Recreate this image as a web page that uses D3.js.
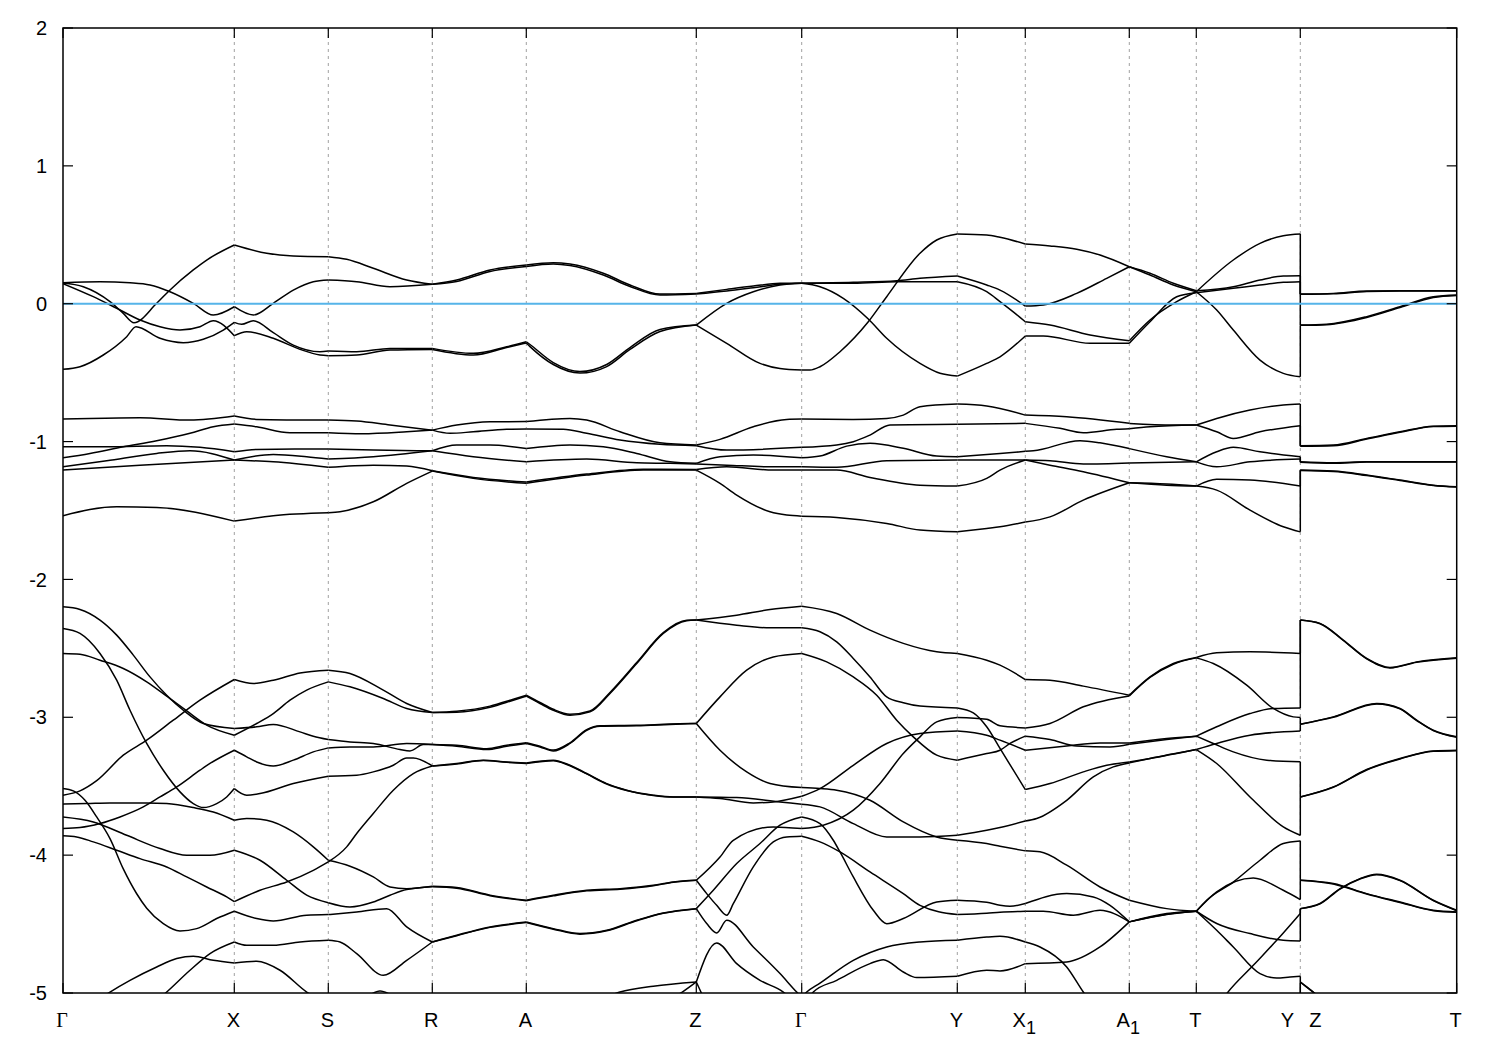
<!DOCTYPE html>
<html><head><meta charset="utf-8">
<script src="https://cdn.jsdelivr.net/npm/d3@7"></script>
<style>body{margin:0;background:#fff}</style>
</head><body>
<svg id="chart" width="1500" height="1050"></svg>
<script>
// High-symmetry path (k in arbitrary path-length units)
const kPoints = [0, 1.713, 2.653, 3.693, 4.633, 6.333, 7.387, 8.943, 9.623, 10.663, 11.333, 12.373, 13.937];
const kNames  = ["Γ", "X", "S", "R", "A", "Z", "Γ", "Y", "X1", "A1", "T", "Y|Z", "T"];
const energyTicks = [2, 1, 0, -1, -2, -3, -4, -5];
const fermiLevel = 0;

// ---- bands near the Fermi level ----
const band01 = [[0,0.150],[0.203,0.123],[0.47,0.015],[0.603,-0.07],[0.71,-0.138],[0.937,0.003],[1.07,0.10],[1.303,0.245],[1.437,0.317],[1.713,0.426],[2.037,0.366],[2.303,0.346],[2.653,0.341],[2.837,0.322],[3.103,0.257],[3.437,0.172],[3.693,0.141],[3.937,0.172],[4.27,0.245],[4.633,0.281],[4.903,0.298],[5.07,0.288],[5.403,0.221],[5.67,0.136],[5.97,0.070],[6.333,0.075],[6.637,0.104],[6.903,0.128],[7.17,0.148],[7.387,0.148],[7.903,0.155],[8.337,0.167],[8.57,0.184],[8.943,0.201],[9.237,0.136],[9.37,0.099],[9.623,-0.017],[9.803,-0.009],[10.137,0.075],[10.437,0.184],[10.663,0.268],[10.87,0.221],[11.103,0.148],[11.333,0.094],[11.703,0.123],[11.97,0.172],[12.203,0.201],[12.373,0.203],[12.373,0.070],[12.703,0.075],[13.037,0.092],[13.37,0.094],[13.937,0.094]];
const band02 = [[0,0.152],[0.37,0.160],[0.67,0.152],[0.87,0.136],[1.07,0.087],[1.303,0.003],[1.503,-0.082],[1.713,-0.022],[1.903,-0.082],[2.103,0.003],[2.303,0.099],[2.503,0.160],[2.653,0.172],[2.937,0.160],[3.27,0.123],[3.693,0.141],[3.937,0.161],[4.27,0.234],[4.633,0.270],[4.903,0.288],[5.07,0.277],[5.403,0.208],[5.67,0.125],[5.97,0.063],[6.333,0.070],[6.637,0.092],[6.903,0.116],[7.17,0.141],[7.387,0.148],[7.903,0.148],[8.337,0.160],[8.57,0.160],[8.943,0.160],[9.237,0.087],[9.37,0.015],[9.57,-0.099],[9.623,-0.131],[9.87,-0.155],[10.27,-0.227],[10.663,-0.269],[10.87,-0.118],[11.137,0.015],[11.333,0.087],[11.703,0.317],[11.97,0.438],[12.203,0.493],[12.373,0.506],[12.373,0.068],[12.703,0.072],[13.037,0.089],[13.37,0.092],[13.937,0.092]];
const band03 = [[0,0.146],[0.303,0.051],[0.537,-0.033],[0.77,-0.118],[0.97,-0.167],[1.17,-0.191],[1.37,-0.167],[1.503,-0.123],[1.713,-0.232],[1.837,-0.203],[2.103,-0.251],[2.37,-0.331],[2.57,-0.372],[2.653,-0.377],[2.937,-0.372],[3.27,-0.336],[3.693,-0.332],[4.103,-0.372],[4.437,-0.318],[4.633,-0.285],[4.67,-0.311],[4.903,-0.441],[5.17,-0.503],[5.437,-0.456],[5.67,-0.332],[5.97,-0.202],[6.333,-0.155],[6.637,0.003],[6.903,0.087],[7.17,0.136],[7.387,0.148],[7.57,0.123],[7.803,0.039],[8.053,-0.111],[8.237,-0.251],[8.57,-0.433],[8.77,-0.505],[8.943,-0.525],[9.237,-0.433],[9.37,-0.385],[9.623,-0.234],[9.803,-0.234],[10.27,-0.287],[10.663,-0.287],[10.87,-0.131],[11.137,0.051],[11.333,0.080],[11.703,0.112],[11.97,0.136],[12.203,0.155],[12.373,0.160],[12.373,-0.155],[12.637,-0.149],[13.037,-0.094],[13.37,-0.022],[13.703,0.051],[13.937,0.063]];
const band04 = [[0,-0.476],[0.17,-0.457],[0.403,-0.372],[0.637,-0.239],[0.73,-0.167],[0.97,-0.251],[1.203,-0.283],[1.403,-0.258],[1.603,-0.191],[1.713,-0.135],[1.787,-0.149],[1.903,-0.123],[2.103,-0.210],[2.303,-0.300],[2.57,-0.348],[2.653,-0.343],[2.937,-0.348],[3.27,-0.324],[3.693,-0.324],[4.103,-0.360],[4.437,-0.312],[4.633,-0.276],[4.67,-0.296],[4.903,-0.427],[5.17,-0.492],[5.437,-0.441],[5.67,-0.318],[5.97,-0.187],[6.333,-0.155],[6.637,-0.287],[6.97,-0.433],[7.17,-0.470],[7.387,-0.481],[7.47,-0.481],[7.57,-0.457],[7.77,-0.348],[8.053,-0.131],[8.237,0.051],[8.57,0.366],[8.737,0.462],[8.943,0.506],[9.237,0.499],[9.37,0.482],[9.623,0.433],[9.87,0.419],[10.137,0.395],[10.37,0.353],[10.663,0.268],[10.87,0.208],[11.103,0.136],[11.333,0.087],[11.537,-0.046],[11.703,-0.191],[11.97,-0.409],[12.203,-0.505],[12.373,-0.530],[12.373,-0.157],[12.637,-0.152],[13.037,-0.100],[13.37,-0.028],[13.703,0.045],[13.937,0.060]];

// ---- bands around -1 eV ----
const band05 = [[0,-1.118],[0.27,-1.086],[0.603,-1.038],[0.937,-0.994],[1.27,-0.940],[1.503,-0.893],[1.713,-0.873],[1.937,-0.893],[2.27,-0.936],[2.653,-0.936],[2.987,-0.943],[3.437,-0.929],[3.693,-0.917],[3.937,-0.880],[4.27,-0.856],[4.633,-0.855],[5.07,-0.832],[5.237,-0.844],[5.57,-0.929],[5.97,-1.009],[6.333,-1.025],[6.57,-0.984],[6.903,-0.893],[7.237,-0.839],[7.387,-0.837],[7.903,-0.839],[8.237,-0.832],[8.403,-0.808],[8.57,-0.747],[8.943,-0.728],[9.237,-0.742],[9.623,-0.808],[10.037,-0.820],[10.663,-0.868],[11.103,-0.880],[11.333,-0.880],[11.537,-0.832],[11.87,-0.771],[12.203,-0.735],[12.373,-0.728],[12.373,-1.030],[12.703,-1.025],[13.037,-0.977],[13.37,-0.929],[13.703,-0.888],[13.937,-0.885]];
const band06 = [[0,-0.837],[0.27,-0.832],[0.77,-0.827],[1.27,-0.844],[1.713,-0.815],[1.937,-0.839],[2.653,-0.844],[2.937,-0.851],[3.27,-0.880],[3.693,-0.917],[3.87,-0.940],[4.103,-0.929],[4.437,-0.911],[4.633,-0.909],[5.003,-0.911],[5.237,-0.940],[5.57,-0.989],[5.97,-1.020],[6.333,-1.030],[6.637,-1.062],[7.387,-1.042],[7.737,-1.025],[7.903,-1.001],[8.07,-0.953],[8.27,-0.880],[8.943,-0.875],[9.623,-0.868],[9.97,-0.904],[10.203,-0.936],[10.537,-0.911],[10.663,-0.907],[10.87,-0.893],[11.333,-0.880],[11.537,-0.929],[11.703,-0.977],[11.97,-0.929],[12.373,-0.885],[12.373,-1.034],[12.703,-1.030],[13.037,-0.982],[13.37,-0.933],[13.703,-0.891],[13.937,-0.888]];
const band07 = [[0,-1.038],[0.437,-1.038],[1.037,-1.030],[1.37,-1.042],[1.713,-1.074],[1.937,-1.057],[2.437,-1.054],[2.653,-1.054],[3.103,-1.062],[3.693,-1.067],[3.937,-1.025],[4.27,-1.025],[4.633,-1.051],[5.07,-1.025],[5.403,-1.038],[5.737,-1.086],[6.07,-1.147],[6.333,-1.158],[6.57,-1.110],[6.903,-1.098],[7.387,-1.118],[7.57,-1.105],[7.837,-1.033],[8.07,-1.013],[8.403,-1.049],[8.737,-1.105],[8.943,-1.110],[9.37,-1.086],[9.623,-1.071],[9.703,-1.067],[10.17,-0.994],[10.37,-1.009],[10.663,-1.051],[11.037,-1.110],[11.333,-1.147],[11.537,-1.074],[11.703,-1.042],[11.97,-1.074],[12.373,-1.110],[12.373,-1.147],[12.703,-1.154],[13.037,-1.147],[13.937,-1.147]];
const band08 = [[0,-1.183],[0.437,-1.139],[0.937,-1.086],[1.27,-1.067],[1.713,-1.134],[2.103,-1.093],[2.437,-1.110],[2.653,-1.127],[3.103,-1.110],[3.693,-1.067],[4.103,-1.110],[4.633,-1.147],[5.237,-1.127],[5.737,-1.154],[6.07,-1.158],[6.333,-1.163],[6.637,-1.171],[7.07,-1.183],[7.387,-1.183],[7.737,-1.187],[8.237,-1.139],[8.943,-1.134],[9.623,-1.134],[9.87,-1.139],[10.203,-1.163],[10.663,-1.155],[11.333,-1.147],[11.537,-1.183],[11.87,-1.147],[12.373,-1.127],[12.373,-1.150],[12.703,-1.158],[13.037,-1.149],[13.937,-1.149]];
const band09 = [[0,-1.207],[0.77,-1.171],[1.713,-1.134],[2.103,-1.147],[2.653,-1.187],[3.103,-1.171],[3.437,-1.178],[3.693,-1.212],[4.103,-1.260],[4.633,-1.294],[5.237,-1.236],[5.803,-1.200],[6.333,-1.202],[6.637,-1.183],[7.103,-1.207],[7.387,-1.207],[7.737,-1.207],[8.07,-1.260],[8.57,-1.316],[8.943,-1.323],[9.237,-1.267],[9.37,-1.207],[9.623,-1.134],[9.87,-1.171],[10.203,-1.219],[10.663,-1.299],[11.037,-1.316],[11.333,-1.323],[11.537,-1.352],[11.87,-1.497],[12.203,-1.618],[12.373,-1.655],[12.373,-1.207],[12.703,-1.214],[13.037,-1.243],[13.37,-1.279],[13.703,-1.316],[13.937,-1.328]];
const band10 = [[0,-1.538],[0.537,-1.473],[0.937,-1.478],[1.713,-1.577],[2.103,-1.538],[2.653,-1.517],[2.77,-1.509],[3.103,-1.437],[3.437,-1.303],[3.693,-1.214],[4.103,-1.267],[4.633,-1.303],[5.237,-1.243],[5.803,-1.207],[6.333,-1.207],[6.57,-1.303],[6.737,-1.388],[7.07,-1.509],[7.237,-1.533],[7.387,-1.541],[7.737,-1.550],[8.237,-1.594],[8.57,-1.642],[8.943,-1.655],[9.237,-1.630],[9.37,-1.618],[9.623,-1.584],[9.87,-1.546],[10.203,-1.425],[10.663,-1.299],[11.037,-1.308],[11.333,-1.323],[11.537,-1.274],[11.87,-1.279],[12.373,-1.323],[12.373,-1.210],[12.703,-1.217],[13.037,-1.246],[13.37,-1.282],[13.703,-1.319],[13.937,-1.330]];

// ---- deeper bands (-2 to -5 eV) ----
const band11 = [[0,-2.199],[0.17,-2.218],[0.37,-2.295],[0.537,-2.404],[0.703,-2.549],[0.87,-2.707],[1.037,-2.840],[1.203,-2.949],[1.403,-3.045],[1.713,-3.081],[1.937,-3.069],[2.103,-3.052],[2.37,-3.106],[2.503,-3.137],[2.653,-3.161],[2.87,-3.179],[3.103,-3.190],[3.37,-3.234],[3.47,-3.244],[3.603,-3.198],[3.693,-3.198],[3.937,-3.210],[4.237,-3.234],[4.437,-3.210],[4.633,-3.190],[4.77,-3.215],[4.903,-3.244],[5.07,-3.190],[5.237,-3.094],[5.37,-3.065],[5.737,-3.062],[6.07,-3.052],[6.333,-3.045],[6.57,-2.852],[6.837,-2.658],[7.103,-2.562],[7.387,-2.537],[7.637,-2.598],[7.903,-2.707],[8.137,-2.840],[8.337,-3.021],[8.503,-3.142],[8.737,-3.275],[8.943,-3.311],[9.237,-3.263],[9.37,-3.239],[9.47,-3.190],[9.623,-3.137],[9.87,-3.161],[10.137,-3.208],[10.47,-3.215],[10.663,-3.195],[11.037,-3.161],[11.333,-3.137],[11.503,-3.190],[11.703,-3.251],[12.037,-3.311],[12.373,-3.323],[12.373,-3.578],[12.703,-3.505],[13.037,-3.379],[13.37,-3.299],[13.703,-3.244],[13.937,-3.239]];
const band12 = [[0,-2.537],[0.17,-2.542],[0.37,-2.586],[0.603,-2.646],[0.837,-2.743],[1.037,-2.847],[1.237,-2.954],[1.437,-3.057],[1.713,-3.130],[1.937,-3.045],[2.103,-2.973],[2.27,-2.876],[2.437,-2.803],[2.653,-2.743],[2.87,-2.779],[3.203,-2.864],[3.437,-2.936],[3.693,-2.965],[3.937,-2.963],[4.27,-2.927],[4.503,-2.876],[4.633,-2.847],[4.77,-2.900],[4.903,-2.949],[5.07,-2.985],[5.27,-2.961],[5.47,-2.827],[5.737,-2.610],[6.003,-2.392],[6.237,-2.300],[6.333,-2.295],[6.737,-2.259],[7.07,-2.218],[7.387,-2.194],[7.737,-2.247],[8.07,-2.368],[8.403,-2.464],[8.737,-2.525],[8.943,-2.537],[9.237,-2.586],[9.37,-2.622],[9.623,-2.726],[9.87,-2.731],[10.203,-2.774],[10.663,-2.840],[10.87,-2.707],[11.103,-2.610],[11.333,-2.566],[11.537,-2.532],[11.87,-2.525],[12.373,-2.537],[12.373,-2.295],[12.57,-2.319],[12.803,-2.440],[13.037,-2.573],[13.27,-2.639],[13.537,-2.598],[13.937,-2.569]];
const band13 = [[0,-3.565],[0.17,-3.534],[0.337,-3.46],[0.603,-3.275],[0.837,-3.166],[1.103,-3.021],[1.37,-2.876],[1.713,-2.726],[1.903,-2.755],[2.103,-2.731],[2.37,-2.678],[2.653,-2.658],[2.87,-2.682],[3.203,-2.803],[3.437,-2.900],[3.693,-2.965],[3.937,-2.956],[4.27,-2.919],[4.503,-2.869],[4.633,-2.840],[4.77,-2.893],[4.903,-2.942],[5.07,-2.978],[5.27,-2.954],[5.47,-2.820],[5.737,-2.603],[6.003,-2.386],[6.237,-2.296],[6.333,-2.295],[6.737,-2.332],[7.07,-2.351],[7.387,-2.351],[7.57,-2.380],[7.737,-2.453],[7.903,-2.573],[8.07,-2.707],[8.237,-2.852],[8.403,-2.895],[8.57,-2.919],[8.943,-2.932],[9.103,-2.968],[9.237,-3.069],[9.37,-3.226],[9.623,-3.524],[9.87,-3.481],[10.203,-3.396],[10.437,-3.348],[10.663,-3.324],[10.87,-3.299],[11.333,-3.234],[11.537,-3.335],[11.87,-3.578],[12.203,-3.795],[12.373,-3.856],[12.373,-3.578],[12.703,-3.508],[13.037,-3.382],[13.37,-3.302],[13.703,-3.247],[13.937,-3.242]];
const band14 = [[0,-2.356],[0.17,-2.392],[0.37,-2.537],[0.537,-2.731],[0.67,-2.949],[0.837,-3.190],[1.003,-3.384],[1.17,-3.541],[1.303,-3.626],[1.403,-3.655],[1.537,-3.626],[1.637,-3.578],[1.713,-3.517],[1.837,-3.565],[1.97,-3.553],[2.303,-3.480],[2.653,-3.427],[2.937,-3.420],[3.103,-3.396],[3.303,-3.348],[3.437,-3.295],[3.503,-3.295],[3.693,-3.353],[3.937,-3.335],[4.203,-3.311],[4.437,-3.324],[4.633,-3.331],[4.903,-3.311],[5.07,-3.348],[5.237,-3.408],[5.437,-3.481],[5.637,-3.529],[5.903,-3.565],[6.103,-3.578],[6.333,-3.578],[6.57,-3.589],[6.903,-3.621],[7.103,-3.614],[7.387,-3.573],[7.57,-3.517],[7.903,-3.348],[8.237,-3.190],[8.57,-3.118],[8.943,-3.099],[9.237,-3.130],[9.37,-3.166],[9.623,-3.239],[10.037,-3.208],[10.37,-3.186],[10.663,-3.186],[11.037,-3.154],[11.333,-3.137],[11.537,-3.069],[11.87,-2.973],[12.103,-2.936],[12.373,-2.932],[12.373,-2.295],[12.57,-2.321],[12.803,-2.443],[13.037,-2.576],[13.27,-2.642],[13.537,-2.601],[13.937,-2.572]];
const band15 = [[0,-3.807],[0.17,-3.800],[0.37,-3.771],[0.57,-3.723],[0.803,-3.650],[0.97,-3.578],[1.137,-3.505],[1.37,-3.384],[1.47,-3.335],[1.713,-3.239],[1.837,-3.287],[1.937,-3.324],[2.103,-3.353],[2.303,-3.311],[2.503,-3.251],[2.653,-3.222],[2.87,-3.215],[3.103,-3.215],[3.437,-3.190],[3.693,-3.198],[3.937,-3.203],[4.237,-3.228],[4.437,-3.203],[4.633,-3.185],[4.77,-3.210],[4.903,-3.238],[5.07,-3.185],[5.237,-3.090],[5.37,-3.061],[5.737,-3.058],[6.07,-3.049],[6.333,-3.045],[6.57,-3.239],[6.837,-3.396],[7.07,-3.480],[7.387,-3.510],[7.57,-3.517],[7.737,-3.529],[8.07,-3.602],[8.403,-3.759],[8.737,-3.868],[8.943,-3.892],[9.237,-3.916],[9.37,-3.935],[9.623,-3.969],[9.77,-3.976],[10.037,-4.073],[10.37,-4.231],[10.663,-4.327],[11.037,-4.388],[11.333,-4.407],[11.437,-4.327],[11.703,-4.195],[11.97,-4.037],[12.203,-3.916],[12.373,-3.897],[12.373,-4.182],[12.703,-4.206],[13.037,-4.279],[13.37,-4.340],[13.703,-4.400],[13.937,-4.412]];
const band16 = [[0,-3.630],[0.237,-3.626],[0.47,-3.621],[0.837,-3.621],[1.037,-3.626],[1.303,-3.655],[1.503,-3.687],[1.713,-3.747],[1.837,-3.734],[2.037,-3.747],[2.303,-3.832],[2.503,-3.940],[2.653,-4.037],[2.87,-4.080],[3.103,-4.158],[3.27,-4.231],[3.437,-4.243],[3.693,-4.226],[3.937,-4.235],[4.27,-4.290],[4.633,-4.327],[4.903,-4.291],[5.237,-4.255],[5.57,-4.243],[5.903,-4.219],[6.103,-4.194],[6.333,-4.182],[6.57,-4.013],[6.703,-3.892],[7.103,-3.795],[7.387,-3.807],[7.603,-3.783],[7.903,-3.674],[8.17,-3.480],[8.403,-3.263],[8.57,-3.142],[8.737,-3.033],[8.943,-3.001],[9.237,-3.015],[9.37,-3.062],[9.623,-3.077],[9.87,-3.045],[10.203,-2.924],[10.663,-2.845],[10.87,-2.711],[11.103,-2.615],[11.333,-2.569],[11.503,-2.610],[11.837,-2.767],[12.103,-2.936],[12.303,-2.997],[12.373,-3.001],[12.373,-3.050],[12.703,-2.997],[13.137,-2.900],[13.37,-2.936],[13.537,-3.021],[13.703,-3.094],[13.937,-3.142]];
const band17 = [[0,-3.723],[0.303,-3.759],[0.637,-3.856],[0.97,-3.952],[1.237,-4.001],[1.47,-4.001],[1.713,-3.964],[1.97,-4.037],[2.237,-4.182],[2.437,-4.29],[2.653,-4.345],[2.87,-4.376],[3.103,-4.340],[3.27,-4.291],[3.437,-4.250],[3.693,-4.230],[3.937,-4.240],[4.27,-4.294],[4.633,-4.331],[4.903,-4.295],[5.237,-4.259],[5.57,-4.247],[5.903,-4.222],[6.103,-4.197],[6.333,-4.182],[6.437,-4.279],[6.537,-4.364],[6.637,-4.436],[6.703,-4.352],[6.903,-4.085],[7.103,-3.904],[7.237,-3.868],[7.387,-3.863],[7.57,-3.904],[7.77,-3.977],[8.07,-4.122],[8.403,-4.279],[8.57,-4.364],[8.943,-4.431],[9.237,-4.421],[9.37,-4.414],[9.623,-4.407],[9.803,-4.407],[10.103,-4.436],[10.37,-4.400],[10.663,-4.484],[11.037,-4.428],[11.333,-4.407],[11.537,-4.496],[11.87,-4.569],[12.203,-4.618],[12.373,-4.623],[12.373,-4.388],[12.57,-4.351],[12.77,-4.243],[12.97,-4.170],[13.137,-4.139],[13.37,-4.182],[13.703,-4.327],[13.937,-4.400]];
const band18 = [[0,-3.860],[0.137,-3.868],[0.303,-3.904],[0.537,-3.964],[0.77,-4.025],[1.037,-4.086],[1.237,-4.158],[1.437,-4.231],[1.637,-4.303],[1.713,-4.337],[1.97,-4.255],[2.237,-4.195],[2.503,-4.110],[2.653,-4.049],[2.837,-3.940],[2.937,-3.843],[3.103,-3.698],[3.303,-3.529],[3.503,-3.408],[3.693,-3.353],[3.937,-3.338],[4.203,-3.314],[4.437,-3.327],[4.633,-3.335],[4.903,-3.315],[5.07,-3.352],[5.237,-3.411],[5.437,-3.484],[5.637,-3.531],[5.903,-3.567],[6.103,-3.578],[6.333,-3.578],[6.737,-3.582],[7.17,-3.614],[7.387,-3.630],[7.57,-3.650],[7.903,-3.771],[8.237,-3.868],[8.57,-3.868],[8.943,-3.856],[9.237,-3.820],[9.37,-3.800],[9.623,-3.752],[9.737,-3.734],[10.037,-3.602],[10.303,-3.432],[10.503,-3.360],[10.663,-3.331],[10.87,-3.299],[11.333,-3.234],[11.537,-3.190],[11.87,-3.130],[12.373,-3.099],[12.373,-3.050],[12.703,-3.000],[13.137,-2.903],[13.37,-2.939],[13.537,-3.024],[13.703,-3.097],[13.937,-3.145]];
const band19 = [[0,-3.517],[0.103,-3.534],[0.22,-3.602],[0.337,-3.723],[0.47,-3.880],[0.603,-4.100],[0.737,-4.280],[0.837,-4.385],[1.003,-4.497],[1.17,-4.550],[1.337,-4.533],[1.537,-4.460],[1.713,-4.407],[1.937,-4.460],[2.103,-4.477],[2.437,-4.436],[2.653,-4.431],[2.937,-4.412],[3.237,-4.388],[3.437,-4.521],[3.693,-4.630],[3.937,-4.581],[4.27,-4.521],[4.633,-4.485],[4.903,-4.533],[5.17,-4.569],[5.437,-4.545],[5.737,-4.472],[6.003,-4.419],[6.333,-4.388],[6.503,-4.255],[6.737,-4.061],[6.97,-3.916],[7.17,-3.783],[7.387,-3.723],[7.57,-3.771],[7.703,-3.892],[7.77,-3.977],[7.903,-4.158],[8.103,-4.400],[8.237,-4.497],[8.403,-4.460],[8.737,-4.340],[8.943,-4.327],[9.237,-4.342],[9.37,-4.364],[9.47,-4.371],[9.623,-4.351],[10.037,-4.279],[10.303,-4.303],[10.47,-4.364],[10.663,-4.484],[11.037,-4.424],[11.333,-4.407],[11.537,-4.267],[11.903,-4.166],[12.203,-4.255],[12.373,-4.322],[12.373,-4.182],[12.703,-4.209],[13.037,-4.282],[13.37,-4.343],[13.703,-4.403],[13.937,-4.415]];
const band20 = [[0,-5.7],[0.5,-5.3],[1.037,-4.993],[1.27,-4.835],[1.47,-4.714],[1.713,-4.630],[1.837,-4.654],[2.103,-4.654],[2.37,-4.630],[2.653,-4.618],[2.77,-4.630],[2.937,-4.714],[3.203,-4.872],[3.437,-4.763],[3.693,-4.630],[3.937,-4.584],[4.27,-4.524],[4.633,-4.489],[4.903,-4.537],[5.17,-4.573],[5.437,-4.549],[5.737,-4.476],[6.003,-4.422],[6.333,-4.388],[6.437,-4.496],[6.537,-4.564],[6.637,-4.472],[6.903,-4.666],[7.17,-4.859],[7.337,-4.993],[7.387,-5.03],[7.437,-4.993],[7.57,-4.928],[7.903,-4.763],[8.237,-4.666],[8.57,-4.630],[8.943,-4.618],[9.237,-4.594],[9.37,-4.589],[9.623,-4.630],[9.77,-4.666],[10.037,-4.811],[10.203,-4.993],[10.663,-5.4],[11.037,-5.45],[11.333,-5.35],[11.637,-5.005],[11.903,-4.799],[12.137,-4.618],[12.373,-4.423],[12.373,-4.388],[12.57,-4.354],[12.77,-4.246],[12.97,-4.173],[13.137,-4.142],[13.37,-4.185],[13.703,-4.330],[13.937,-4.403]];
const band21 = [[0,-5.22],[0.2,-5.13],[0.47,-4.993],[0.67,-4.908],[0.937,-4.811],[1.137,-4.750],[1.303,-4.733],[1.503,-4.763],[1.713,-4.782],[1.937,-4.770],[2.17,-4.835],[2.437,-4.993],[2.653,-5.08],[3.0,-5.04],[3.17,-4.985],[3.35,-5.04],[3.693,-5.12],[4.633,-5.2],[5.2,-5.1],[5.57,-4.993],[5.903,-4.951],[6.333,-4.920],[6.537,-4.637],[6.737,-4.787],[6.97,-4.908],[7.203,-4.993],[7.387,-5.12],[7.503,-4.993],[7.737,-4.908],[8.07,-4.787],[8.203,-4.758],[8.403,-4.848],[8.537,-4.888],[8.943,-4.879],[9.237,-4.835],[9.37,-4.840],[9.623,-4.787],[10.037,-4.775],[10.37,-4.666],[10.663,-4.484],[11.037,-4.430],[11.333,-4.407],[11.537,-4.545],[11.703,-4.666],[11.97,-4.859],[12.137,-4.891],[12.27,-4.884],[12.373,-4.879],[12.373,-4.920],[12.437,-4.956],[12.503,-4.993],[12.8,-5.2],[13.937,-5.5]];
const band22 = [[0,-5.6],[3.693,-5.5],[4.633,-5.4],[5.9,-5.1],[6.2,-4.99],[6.333,-4.920],[6.387,-5.005],[6.6,-5.4],[7.387,-5.6],[8.943,-5.5],[10.663,-5.5],[11.333,-5.6],[12.373,-5.5],[12.373,-4.920],[12.437,-4.958],[12.503,-4.995],[12.8,-5.2],[13.937,-5.5]];

const bands = [band01,band02,band03,band04,band05,band06,band07,band08,band09,band10,
               band11,band12,band13,band14,band15,band16,band17,band18,band19,band20,band21,band22];

// ---------------- drawing ----------------
(function(){
const svg = d3.select("#chart");
const pL = 63, pR = 1456.7, pT = 28, pB = 993;
const x = d3.scaleLinear().domain([kPoints[0], kPoints[kPoints.length-1]]).range([pL, pR]);
const y = d3.scaleLinear().domain([-5, 2]).range([pB, pT]);

svg.append("rect").attr("width",1500).attr("height",1050).attr("fill","#fff");
svg.append("defs").append("clipPath").attr("id","plotclip")
  .append("rect").attr("x",pL).attr("y",pT).attr("width",pR-pL).attr("height",pB-pT);

svg.append("g").selectAll("line").data(kPoints.slice(1,-1)).join("line")
  .attr("x1",d=>x(d)).attr("x2",d=>x(d)).attr("y1",pT).attr("y2",pB)
  .attr("stroke","#a0a0a0").attr("stroke-width",1).attr("stroke-dasharray","3,4");

const isTick = k => kPoints.some(t => Math.abs(t-k) < 1e-6);
function segments(pts){
  const segs=[]; let cur=[pts[0]];
  for(let i=1;i<pts.length;i++){
    const p=pts[i]; cur.push(p);
    if(isTick(p[0])){ if(cur.length>1) segs.push(cur); cur=[p]; }
  }
  if(cur.length>1) segs.push(cur);
  return segs;
}
const lineSmooth = d3.line().x(d=>x(d[0])).y(d=>y(d[1])).curve(d3.curveMonotoneX);
const lineStraight = d3.line().x(d=>x(d[0])).y(d=>y(d[1]));
const gb = svg.append("g").attr("clip-path","url(#plotclip)");
bands.forEach(b=>{
  segments(b).forEach(s=>{
    const vertical = s.length===2 && Math.abs(s[0][0]-s[1][0])<1e-6;
    gb.append("path").attr("d", vertical ? lineStraight(s) : lineSmooth(s))
      .attr("fill","none").attr("stroke","#000").attr("stroke-width",1.5)
      .attr("stroke-linejoin","round");
  });
});

svg.append("line").attr("x1",pL).attr("x2",pR).attr("y1",y(fermiLevel)).attr("y2",y(fermiLevel))
  .attr("stroke","#56b4e9").attr("stroke-width",2);

svg.append("rect").attr("x",pL).attr("y",pT).attr("width",pR-pL).attr("height",pB-pT)
  .attr("fill","none").attr("stroke","#000").attr("stroke-width",1.5);

const gy = svg.append("g");
energyTicks.forEach(v=>{
  gy.append("line").attr("x1",pL).attr("x2",pL+10).attr("y1",y(v)).attr("y2",y(v)).attr("stroke","#000").attr("stroke-width",1.2);
  gy.append("line").attr("x1",pR-10).attr("x2",pR).attr("y1",y(v)).attr("y2",y(v)).attr("stroke","#000").attr("stroke-width",1.2);
  gy.append("text").attr("x",47).attr("y",y(v)).attr("dy","0.36em").attr("text-anchor","end")
    .attr("font-family","Liberation Sans, Arial, sans-serif").attr("font-size",20).text(String(v));
});

const gx = svg.append("g");
kPoints.forEach((k,i)=>{
  gx.append("line").attr("x1",x(k)).attr("x2",x(k)).attr("y1",pB).attr("y2",pB-10).attr("stroke","#000").attr("stroke-width",1.2);
  gx.append("line").attr("x1",x(k)).attr("x2",x(k)).attr("y1",pT).attr("y2",pT+10).attr("stroke","#000").attr("stroke-width",1.2);
  const name = kNames[i];
  const put = (txt, dx) => {
    const t = gx.append("text").attr("x",x(k)+dx).attr("y",1027).attr("text-anchor","middle").attr("font-size",20);
    if(txt==="Γ"){ t.attr("font-family","Liberation Serif, Times New Roman, serif").text("Γ"); return; }
    t.attr("font-family","Liberation Sans, Arial, sans-serif");
    const m = txt.match(/^([A-Z])(\d)$/);
    if(m){ t.append("tspan").text(m[1]); t.append("tspan").attr("dy",7).attr("font-size",18).text(m[2]); }
    else t.text(txt);
  };
  if(name.includes("|")){ const [a,b]=name.split("|"); put(a,-13); put(b,15); }
  else put(name, -1);
});
})();
</script>
</body></html>
